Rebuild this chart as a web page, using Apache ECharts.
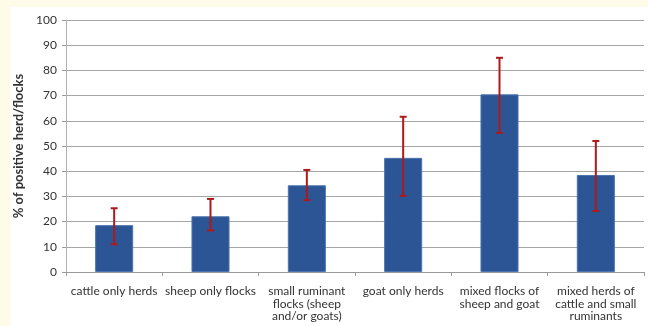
<!DOCTYPE html>
<html>
<head>
<meta charset="utf-8">
<script src="https://cdn.jsdelivr.net/npm/echarts@6/dist/echarts.min.js"></script>
<style>
  html, body { margin: 0; padding: 0; background: #FEFBE8; }
  #wrap { position: absolute; left: 10px; top: 7px; width: 638px; height: 319px; background: #ffffff; }
  #chart { position: absolute; left: 0; top: 0; width: 648px; height: 326px; }
</style>
</head>
<body>
<div id="wrap"></div>
<div id="chart"></div>
<script>
// Herd/flock types on the category axis
const categories = [
  'cattle only herds',
  'sheep only flocks',
  'small ruminant\nflocks (sheep\nand/or goats)',
  'goat only herds',
  'mixed flocks of\nsheep and goat',
  'mixed herds of\ncattle and small\nruminants'
];
// Percentage of positive herds/flocks
const positivePct = [18.6, 22.1, 34.4, 45.3, 70.5, 38.5];
// Confidence interval bounds
const ciLower = [11.0, 16.5, 28.5, 30.2, 55.2, 24.2];
const ciUpper = [25.3, 29.0, 40.5, 61.6, 85.0, 52.0];
// Value axis ticks
const yTicks = [0, 10, 20, 30, 40, 50, 60, 70, 80, 90, 100];

const errorData = categories.map((c, i) => [i, ciLower[i], ciUpper[i]]);

const chart = echarts.init(document.getElementById('chart'), null, { renderer: 'canvas' });
const font = 'Lato, "Open Sans", sans-serif';

chart.setOption({
  backgroundColor: 'transparent',
  animation: false,
  grid: { left: 66, right: 4, top: 20, bottom: 54 },
  xAxis: {
    type: 'category',
    data: categories,
    axisLine: { lineStyle: { color: '#9a9a9a', width: 1 } },
    axisTick: { show: true, alignWithLabel: false, length: 4, lineStyle: { color: '#9a9a9a' } },
    axisLabel: {
      interval: 0, margin: 13, color: '#333', fontFamily: font, fontSize: 12, lineHeight: 12.5
    }
  },
  yAxis: {
    type: 'value',
    min: yTicks[0], max: yTicks[yTicks.length - 1], interval: 10,
    name: '% of positive herd/flocks',
    nameLocation: 'middle',
    nameGap: 35,
    nameTextStyle: { color: '#333', fontFamily: font, fontSize: 13, fontWeight: 'bold' },
    axisLine: { show: true, lineStyle: { color: '#b0b0b0', width: 1 } },
    axisTick: { show: true, length: 4, lineStyle: { color: '#9a9a9a' } },
    axisLabel: { color: '#333', fontFamily: font, fontSize: 12, margin: 9 },
    splitLine: { lineStyle: { color: '#a6a6a6', width: 1 } }
  },
  series: [
    {
      type: 'bar',
      data: positivePct,
      barWidth: '39.5%',
      itemStyle: { color: '#2C5596', borderColor: '#4B73B0', borderWidth: 1 },
      z: 2
    },
    {
      type: 'custom',
      data: errorData,
      z: 3,
      renderItem: function (params, api) {
        const x = api.value(0);
        const lo = api.coord([x, api.value(1)]);
        const hi = api.coord([x, api.value(2)]);
        const cap = 3.5;
        const style = { stroke: '#AE1A1A', lineWidth: 2 };
        return {
          type: 'group',
          children: [
            { type: 'line', shape: { x1: hi[0], y1: hi[1], x2: lo[0], y2: lo[1] }, style: style },
            { type: 'line', shape: { x1: hi[0] - cap, y1: hi[1], x2: hi[0] + cap, y2: hi[1] }, style: style },
            { type: 'line', shape: { x1: lo[0] - cap, y1: lo[1], x2: lo[0] + cap, y2: lo[1] }, style: style }
          ]
        };
      }
    }
  ]
});
</script>
</body>
</html>
